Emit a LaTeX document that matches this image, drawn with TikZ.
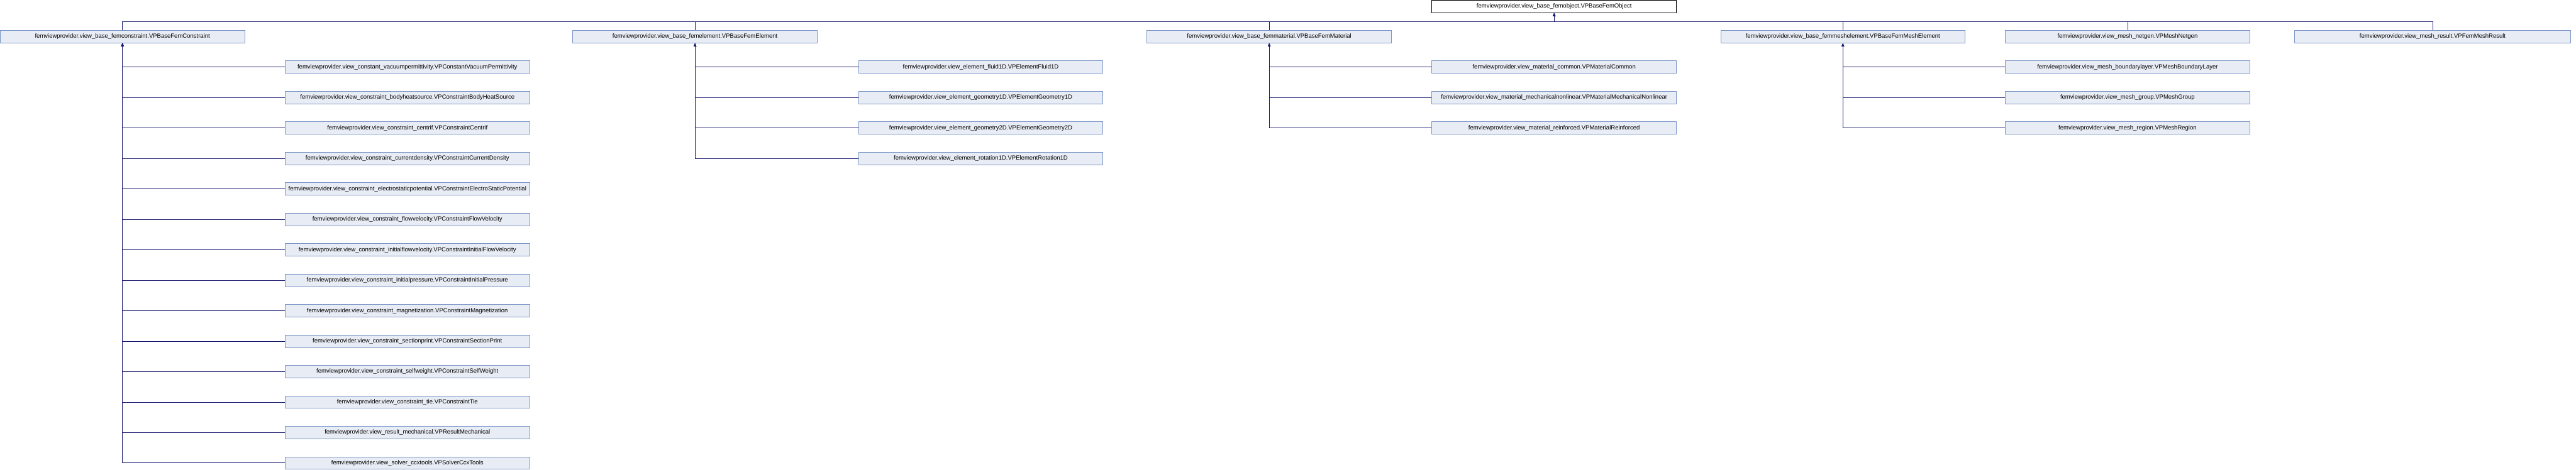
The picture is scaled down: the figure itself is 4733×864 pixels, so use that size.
\documentclass[tikz,border=0pt]{standalone}
\usepackage{fontspec}
\setmainfont{Liberation Sans}
\usetikzlibrary{arrows.meta}
\definecolor{boxfill}{HTML}{E8ECF4}
\definecolor{boxline}{HTML}{7B95C7}
\definecolor{edgeblue}{HTML}{191970}

\tikzset{
  cls/.style = {draw=boxline, fill=boxfill, line width=1pt,
    minimum width=449pt, minimum height=23pt, inner sep=1pt,
    font=\fontsize{11}{12}\selectfont},
  inherit/.style = {draw=edgeblue, line width=1pt,
    -{Triangle[length=6pt,width=5pt]}}
}

\begin{document}
\begin{tikzpicture}[x=1pt, y=-1pt]
  \useasboundingbox (0,0) rectangle (4733,864);

  % root class
  \node[cls, draw=black, fill=white] (obj) at (2855.5,12)
    {femviewprovider.view\_base\_femobject.VPBaseFemObject};
  \coordinate (bus) at (2855.5,40);

  % first level
  \node[cls] (fc)  at (225,67.5)  {femviewprovider.view\_base\_femconstraint.VPBaseFemConstraint};
  \node[cls] (fe)  at (1277,67.5) {femviewprovider.view\_base\_femelement.VPBaseFemElement};
  \node[cls] (fm)  at (2332,67.5) {femviewprovider.view\_base\_femmaterial.VPBaseFemMaterial};
  \node[cls] (fme) at (3386,67.5) {femviewprovider.view\_base\_femmeshelement.VPBaseFemMeshElement};
  \node[cls] (ng)  at (3909,67.5) {femviewprovider.view\_mesh\_netgen.VPMeshNetgen};
  \node[cls, minimum width=507pt] (mr) at (4469.5,67.5) {femviewprovider.view\_mesh\_result.VPFemMeshResult};

  \foreach \p in {fc,fe,fm,fme,ng,mr}
    \draw[inherit] (\p.north) |- (bus) -- (obj.south);

  % constraints
  \foreach \txt [count=\i from 0] in {
      view\_constant\_vacuumpermittivity.VPConstantVacuumPermittivity,
      view\_constraint\_bodyheatsource.VPConstraintBodyHeatSource,
      view\_constraint\_centrif.VPConstraintCentrif,
      view\_constraint\_currentdensity.VPConstraintCurrentDensity,
      view\_constraint\_electrostaticpotential.VPConstraintElectroStaticPotential,
      view\_constraint\_flowvelocity.VPConstraintFlowVelocity,
      view\_constraint\_initialflowvelocity.VPConstraintInitialFlowVelocity,
      view\_constraint\_initialpressure.VPConstraintInitialPressure,
      view\_constraint\_magnetization.VPConstraintMagnetization,
      view\_constraint\_sectionprint.VPConstraintSectionPrint,
      view\_constraint\_selfweight.VPConstraintSelfWeight,
      view\_constraint\_tie.VPConstraintTie,
      view\_result\_mechanical.VPResultMechanical,
      view\_solver\_ccxtools.VPSolverCcxTools} {
    \node[cls] (con\i) at (748.5,{123.5+56*\i}) {femviewprovider.\txt};
    \draw[inherit] (con\i.west) -| (fc.south);
  }

  % elements
  \foreach \txt [count=\i from 0] in {
      view\_element\_fluid1D.VPElementFluid1D,
      view\_element\_geometry1D.VPElementGeometry1D,
      view\_element\_geometry2D.VPElementGeometry2D,
      view\_element\_rotation1D.VPElementRotation1D} {
    \node[cls] (el\i) at (1802,{123.5+56*\i}) {femviewprovider.\txt};
    \draw[inherit] (el\i.west) -| (fe.south);
  }

  % materials
  \foreach \txt [count=\i from 0] in {
      view\_material\_common.VPMaterialCommon,
      view\_material\_mechanicalnonlinear.VPMaterialMechanicalNonlinear,
      view\_material\_reinforced.VPMaterialReinforced} {
    \node[cls] (mat\i) at (2855.5,{123.5+56*\i}) {femviewprovider.\txt};
    \draw[inherit] (mat\i.west) -| (fm.south);
  }

  % mesh elements
  \foreach \txt [count=\i from 0] in {
      view\_mesh\_boundarylayer.VPMeshBoundaryLayer,
      view\_mesh\_group.VPMeshGroup,
      view\_mesh\_region.VPMeshRegion} {
    \node[cls] (msh\i) at (3909,{123.5+56*\i}) {femviewprovider.\txt};
    \draw[inherit] (msh\i.west) -| (fme.south);
  }
\end{tikzpicture}
\end{document}
